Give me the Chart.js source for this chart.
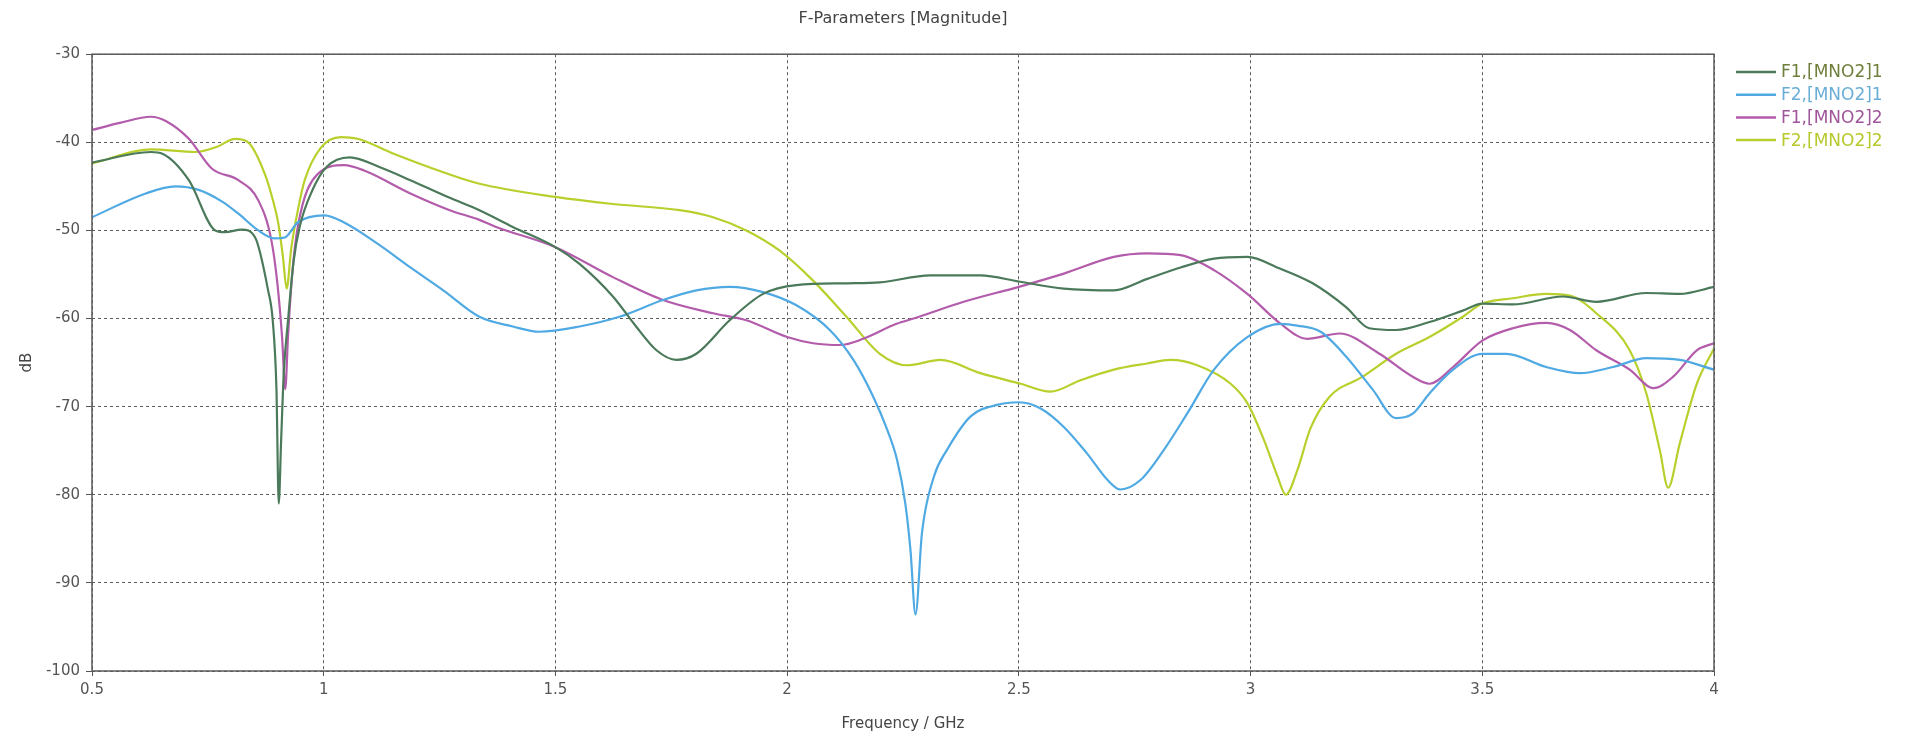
<!DOCTYPE html>
<html><head><meta charset="utf-8">
<script src="https://cdn.jsdelivr.net/npm/chart.js@4/dist/chart.umd.min.js"></script>
<style>html,body{margin:0;padding:0;background:#fff;overflow:hidden}</style>
</head><body>
<canvas id="c" width="1908" height="737"></canvas>
<script>
// ---- Data ----
const xTickValues = [0.5, 1, 1.5, 2, 2.5, 3, 3.5, 4];
const yTickValues = [-30, -40, -50, -60, -70, -80, -90, -100];
const seriesLabels = ['F1,[MNO2]1', 'F2,[MNO2]1', 'F1,[MNO2]2', 'F2,[MNO2]2'];

const f1m1Freq = [0.5,0.627,0.652,0.709,0.766,0.787,0.823,0.852,0.88,0.89,0.898,0.903,0.908,0.914,0.923,0.935,0.948,0.975,1.006,1.056,1.12,1.187,1.272,1.336,1.408,1.5,1.552,1.624,1.674,1.718,1.761,1.804,1.876,1.948,2.02,2.128,2.2,2.309,2.417,2.5,2.597,2.705,2.777,2.849,2.921,2.993,3.062,3.134,3.206,3.256,3.314,3.386,3.458,3.5,3.566,3.674,3.746,3.854,3.926,4.0];
const f1m1Db   = [-42.3,-41.1,-41.3,-44.3,-50.0,-50.2,-49.9,-50.8,-56.8,-60.2,-68,-81.0,-74,-66,-60.2,-53.5,-49.6,-45.5,-42.8,-41.7,-42.8,-44.3,-46.3,-47.7,-49.6,-51.9,-53.8,-57.5,-60.9,-63.6,-64.7,-64.0,-60.2,-57.2,-56.2,-56.0,-55.9,-55.1,-55.1,-55.8,-56.6,-56.8,-55.5,-54.2,-53.2,-53.0,-54.3,-56.0,-58.7,-61.1,-61.3,-60.4,-59.1,-58.3,-58.4,-57.5,-58.1,-57.1,-57.2,-56.4];

const f2m1Freq = [0.5,0.616,0.68,0.73,0.78,0.816,0.859,0.894,0.916,0.944,1.001,1.044,1.116,1.187,1.258,1.336,1.408,1.465,1.552,1.638,1.732,1.804,1.876,1.948,2.02,2.092,2.143,2.186,2.215,2.237,2.255,2.266,2.277,2.291,2.317,2.345,2.396,2.453,2.5,2.547,2.597,2.647,2.691,2.719,2.763,2.813,2.863,2.921,2.993,3.065,3.101,3.151,3.206,3.264,3.314,3.35,3.386,3.437,3.5,3.552,3.638,3.71,3.782,3.854,3.926,4.0];
const f2m1Db   = [-48.5,-45.8,-45.0,-45.4,-46.7,-48.1,-50.0,-50.9,-50.8,-49.1,-48.3,-49.1,-51.5,-54.2,-56.8,-59.8,-60.9,-61.5,-60.9,-59.8,-57.9,-56.8,-56.4,-57.0,-58.5,-61.3,-64.7,-68.9,-72.5,-76.0,-81,-86.2,-93.6,-84.3,-77.9,-74.9,-71.1,-69.8,-69.5,-70.2,-72.3,-75.3,-78.3,-79.4,-78.3,-74.9,-70.8,-65.8,-62.1,-60.6,-60.8,-61.5,-64.3,-68.1,-71.3,-70.8,-68.5,-65.8,-64.0,-64.0,-65.5,-66.2,-65.5,-64.5,-64.7,-65.8];

const f1m2Freq = [0.5,0.56,0.627,0.66,0.709,0.759,0.816,0.859,0.887,0.9,0.91,0.917,0.923,0.932,0.944,0.987,1.044,1.087,1.187,1.272,1.336,1.372,1.5,1.624,1.732,1.84,1.912,2.0,2.056,2.114,2.164,2.236,2.273,2.381,2.5,2.597,2.705,2.777,2.849,2.921,2.993,3.065,3.122,3.192,3.278,3.35,3.386,3.437,3.5,3.566,3.638,3.689,3.746,3.818,3.869,3.912,3.963,4.0];
const f1m2Db   = [-38.6,-37.8,-37.1,-37.6,-39.6,-43.0,-44.3,-46.6,-51.1,-56,-62,-68.0,-62,-55,-49.6,-43.6,-42.6,-43.2,-45.8,-47.7,-48.8,-49.6,-51.9,-55.3,-57.9,-59.4,-60.2,-62.1,-62.8,-63.0,-62.3,-60.6,-60.0,-58.1,-56.4,-54.9,-53.0,-52.6,-52.8,-54.5,-57.2,-60.6,-62.3,-61.7,-64.0,-66.6,-67.4,-65.5,-62.5,-61.1,-60.5,-61.3,-63.6,-65.8,-67.9,-66.6,-63.6,-62.8];

const f2m2Freq = [0.5,0.627,0.723,0.77,0.809,0.837,0.873,0.89,0.902,0.912,0.92,0.93,0.945,0.959,0.994,1.037,1.073,1.151,1.258,1.336,1.5,1.624,1.768,1.84,1.912,1.984,2.056,2.128,2.2,2.259,2.331,2.417,2.504,2.568,2.633,2.705,2.777,2.827,2.885,2.957,2.993,3.029,3.058,3.076,3.101,3.129,3.17,3.242,3.314,3.386,3.458,3.5,3.566,3.638,3.689,3.746,3.818,3.854,3.883,3.901,3.926,3.963,4.0];
const f2m2Db   = [-42.4,-40.8,-41.1,-40.5,-39.6,-40.0,-43.6,-46.5,-49.2,-53,-56.6,-52,-47.5,-44.3,-40.6,-39.4,-39.6,-41.3,-43.4,-44.7,-46.2,-47.0,-47.7,-48.5,-50.0,-52.3,-55.7,-59.8,-64.0,-65.3,-64.7,-66.2,-67.4,-68.3,-67.0,-65.8,-65.1,-64.7,-65.3,-67.4,-69.6,-73.8,-77.9,-80.0,-77.2,-72.5,-68.9,-66.6,-64.0,-62.1,-59.8,-58.3,-57.7,-57.2,-57.4,-59.4,-63.6,-68.5,-74.9,-79.2,-74.2,-67.4,-63.4];

// ---- styling ----
const lineColors = ['#4b7a5a', '#4fa9e3', '#b35cab', '#b9cf2c'];
const textColors = ['#6f7f3c', '#6aaed6', '#a0569a', '#b8c92e'];
const zip = (xs, ys) => xs.map((x, i) => ({x: x, y: ys[i]}));
const seriesData = [zip(f1m1Freq, f1m1Db), zip(f2m1Freq, f2m1Db), zip(f1m2Freq, f1m2Db), zip(f2m2Freq, f2m2Db)];

const frameAndLegend = {
  id: 'frameAndLegend',
  afterDraw(chart) {
    const ctx = chart.ctx, ca = chart.chartArea;
    ctx.save();
    ctx.strokeStyle = '#5a5a5a';
    ctx.lineWidth = 1.5;
    ctx.strokeRect(ca.left, ca.top, ca.right - ca.left, ca.bottom - ca.top);
    ctx.font = '17px "DejaVu Sans", sans-serif';
    ctx.textBaseline = 'middle';
    ctx.textAlign = 'left';
    chart.data.datasets.forEach((ds, i) => {
      const y = 72 + i * 22.7;
      ctx.strokeStyle = ds.borderColor;
      ctx.lineWidth = 2.5;
      ctx.beginPath();
      ctx.moveTo(ca.right + 22, y);
      ctx.lineTo(ca.right + 62, y);
      ctx.stroke();
      ctx.fillStyle = textColors[i];
      ctx.fillText(ds.label, ca.right + 67, y + 1);
    });
    ctx.restore();
  }
};

const tickFont = {family: '"DejaVu Sans", sans-serif', size: 15};
const titleFont = {family: '"DejaVu Sans", sans-serif', size: 15};

new Chart(document.getElementById('c'), {
  type: 'line',
  data: {
    datasets: seriesLabels.map((lab, i) => ({
      label: lab,
      data: seriesData[i],
      borderColor: lineColors[i],
      backgroundColor: lineColors[i],
      borderWidth: 2.2,
      pointRadius: 0,
      fill: false,
      cubicInterpolationMode: 'monotone'
    }))
  },
  options: {
    responsive: false,
    animation: false,
    layout: {padding: {left: 0, right: 194, top: 0, bottom: 0}},
    plugins: {
      legend: {display: false},
      tooltip: {enabled: false},
      title: {
        display: true, text: 'F-Parameters [Magnitude]', fullSize: false,
        color: '#444', font: {family: '"DejaVu Sans", sans-serif', size: 16, weight: 'normal'},
        padding: {top: 9, bottom: 26}
      }
    },
    scales: {
      x: {
        type: 'linear', min: 0.5, max: 4,
        afterBuildTicks: s => { s.ticks = xTickValues.map(v => ({value: v})); },
        afterFit: s => { s.height = 66; },
        ticks: {color: '#555', font: tickFont, padding: 5, maxRotation: 0, callback: v => String(v)},
        grid: {color: '#5e5e5e', lineWidth: 1, drawTicks: true, tickLength: 5, tickColor: '#555', tickBorderDash: [], tickWidth: 1},
        border: {display: false, dash: [3, 3]},
        title: {display: true, text: 'Frequency / GHz', color: '#444', font: titleFont, padding: {top: 0, bottom: 4}}
      },
      y: {
        type: 'linear', min: -100, max: -30,
        afterBuildTicks: s => { s.ticks = yTickValues.map(v => ({value: v})); },
        afterFit: s => { s.width = 92; },
        ticks: {color: '#555', font: tickFont, padding: 6, callback: v => String(v)},
        grid: {color: '#5e5e5e', lineWidth: 1, drawTicks: true, tickLength: 6, tickColor: '#555', tickBorderDash: [], tickWidth: 1},
        border: {display: false, dash: [3, 3]},
        title: {display: true, text: 'dB', color: '#444', font: titleFont, padding: {top: 18, bottom: 0}}
      }
    }
  },
  plugins: [frameAndLegend]
});
</script>
</body></html>
